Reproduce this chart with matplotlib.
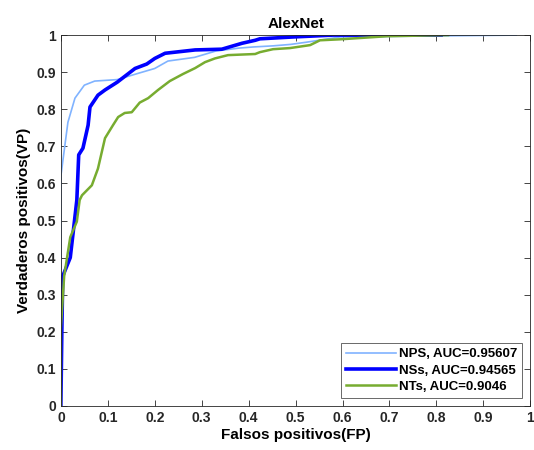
import matplotlib.pyplot as plt

plt.rcParams['font.family'] = ['Liberation Sans', 'DejaVu Sans']
plt.rcParams['font.weight'] = 'bold'

# curva ROC NPS
nps_fp = [0, 0, 0.0, 0.015, 0.03, 0.05, 0.072, 0.12, 0.165, 0.2, 0.228, 0.285, 0.33,
          0.38, 0.41, 0.452, 0.49, 0.524, 0.595, 0.97]
nps_vp = [0, 0.3, 0.62, 0.765, 0.83, 0.865, 0.876, 0.88, 0.897, 0.91, 0.93, 0.94, 0.957,
          0.965, 0.968, 0.971, 0.975, 0.981, 0.995, 1.0]

# curva ROC NSs
nss_fp = [0, 0.002, 0.004, 0.02, 0.026, 0.034, 0.038, 0.047, 0.058, 0.062, 0.079, 0.094,
          0.12, 0.158, 0.183, 0.2, 0.222, 0.286, 0.343, 0.386, 0.414, 0.424, 0.495, 0.58, 0.81]
nss_vp = [0, 0.2, 0.35, 0.40, 0.466, 0.555, 0.677, 0.695, 0.757, 0.806, 0.838, 0.852,
          0.873, 0.91, 0.922, 0.937, 0.951, 0.96, 0.962, 0.978, 0.986, 0.99, 0.995, 1.0, 1.0]

# curva ROC NTs
nts_fp = [0, 0, 0.007, 0.02, 0.034, 0.04, 0.045, 0.066, 0.079, 0.094, 0.111, 0.122, 0.136,
          0.151, 0.168, 0.186, 0.207, 0.232, 0.26, 0.286, 0.307, 0.328, 0.356, 0.414, 0.424,
          0.452, 0.488, 0.531, 0.552, 0.6, 0.695, 0.825]
nts_vp = [0, 0.21, 0.35, 0.455, 0.497, 0.555, 0.568, 0.595, 0.64, 0.722, 0.757, 0.779, 0.79,
          0.792, 0.818, 0.83, 0.852, 0.876, 0.895, 0.911, 0.927, 0.937, 0.946, 0.949, 0.954,
          0.962, 0.965, 0.973, 0.986, 0.989, 0.997, 1.0]

labels = ['NPS, AUC=0.95607', 'NSs, AUC=0.94565', 'NTs, AUC=0.9046']

fig = plt.figure(figsize=(5.34, 4.5), dpi=100)
ax = fig.add_axes([0.114, 0.098, 0.879, 0.824])

ax.plot(nps_fp, nps_vp, color='#80b3ff', lw=1.2, label=labels[0])
ax.plot(nss_fp, nss_vp, color='#0000ff', lw=2.6, label=labels[1])
ax.plot(nts_fp, nts_vp, color='#77ac30', lw=1.8, label=labels[2])

ax.set_xlim(0, 1)
ax.set_ylim(0, 1)
ticks = [i / 10 for i in range(11)]
tlabels = ['0'] + ['%.1f' % t for t in ticks[1:-1]] + ['1']
ax.set_xticks(ticks)
ax.set_xticklabels(tlabels)
ax.set_yticks(ticks)
ax.set_yticklabels(tlabels)
ax.tick_params(direction='in', top=True, right=True, labelsize=10, length=4,
               width=0.6, color='#262626', labelcolor='#262626')
for s in ax.spines.values():
    s.set_linewidth(0.6)
    s.set_color('#262626')

ax.set_title('AlexNet', fontsize=11, fontweight='bold', pad=5)
ax.set_xlabel('Falsos positivos(FP)', fontsize=11, fontweight='bold', labelpad=2)
ax.set_ylabel('Verdaderos positivos(VP)', fontsize=11, fontweight='bold', labelpad=4)

leg = ax.legend(loc='lower right', fontsize=9.5, fancybox=False, edgecolor='#262626',
                handlelength=3.8, borderpad=0.4, labelspacing=0.3, handletextpad=0.2,
                borderaxespad=0.6)
leg.get_frame().set_linewidth(0.6)

fig.savefig('out.png', dpi=100)
